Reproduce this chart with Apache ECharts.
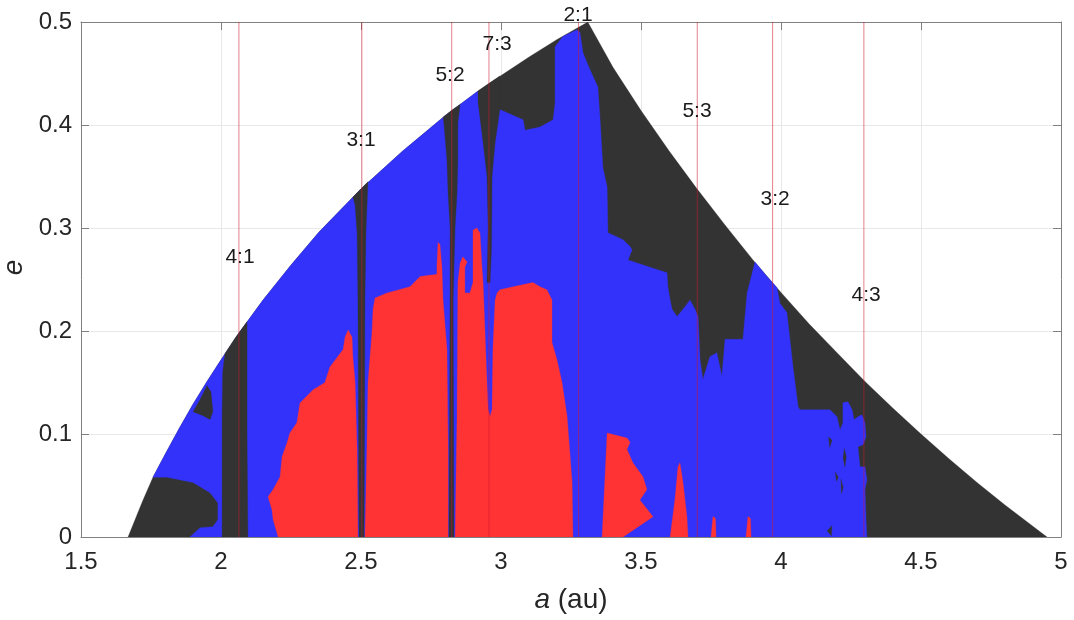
<!DOCTYPE html>
<html><head><meta charset="utf-8">
<script src="https://cdn.jsdelivr.net/npm/echarts@6/dist/echarts.min.js"></script>
<style>html,body{margin:0;padding:0;background:#fff}#c{width:1074px;height:620px}</style>
</head><body><div id="c"></div>
<script>
// ---------- data (a in au, e) ----------
const xTicks = [1.5, 2, 2.5, 3, 3.5, 4, 4.5, 5];
const yTicks = [0, 0.1, 0.2, 0.3, 0.4, 0.5];

// boundary of the explored region
const leftEdge = [[1.668,0],[1.72,0.035],[1.757,0.058],[1.80,0.08],[1.85,0.105],[1.90,0.129],[1.95,0.151],[2.0,0.172],[2.064,0.198],[2.15,0.23],[2.25,0.264],[2.35,0.296],[2.5,0.338],[2.65,0.375],[2.8,0.409],[2.918,0.433],[3.0,0.448],[3.1,0.466],[3.2,0.483],[3.31,0.5]];
const rightEdge = [[3.31,0.5],[3.4,0.456],[3.5,0.414],[3.6,0.375],[3.7,0.338],[3.8,0.303],[3.9,0.269],[4.0,0.2375],[4.1,0.207],[4.2,0.179],[4.3,0.151],[4.4,0.125],[4.5,0.1],[4.6,0.076],[4.7,0.053],[4.8,0.031],[4.95,0]];

// blue (stable) region outline pieces
const blueLobeEdge = [[1.889,0],[1.925,0.009],[1.971,0.010],[1.989,0.017],[1.989,0.033],[1.961,0.043],[1.9,0.053],[1.807,0.058]];
const blueUpperEdge = [[2.996,0.415],[3.079,0.405],[3.086,0.395],[3.139,0.398],[3.186,0.405],[3.193,0.421],[3.193,0.476],[3.221,0.486],[3.271,0.4925],[3.282,0.490],[3.293,0.470],[3.318,0.4537],[3.329,0.447],[3.346,0.437],[3.354,0.405],[3.364,0.3585],[3.379,0.340],[3.382,0.2955],[3.436,0.2886],[3.461,0.282],[3.468,0.279],[3.454,0.269],[3.532,0.262],[3.593,0.2566],[3.596,0.243],[3.604,0.2304],[3.611,0.221],[3.629,0.214],[3.65,0.221],[3.675,0.23],[3.693,0.221],[3.704,0.214],[3.711,0.172],[3.721,0.153],[3.746,0.175],[3.771,0.179],[3.789,0.156],[3.8,0.192],[3.864,0.192],[3.879,0.237],[3.907,0.267],[3.95,0.253],[3.986,0.242],[3.996,0.227],[4.021,0.218],[4.043,0.165],[4.061,0.1265],[4.068,0.1236],[4.175,0.1236],[4.2,0.1168],[4.211,0.104],[4.221,0.111],[4.221,0.1304],[4.239,0.1314],[4.254,0.1236],[4.261,0.1139],[4.275,0.1168],[4.289,0.1188],[4.3,0.111],[4.304,0.0974],[4.293,0.0896],[4.275,0.0877],[4.282,0.0682],[4.3,0.0682],[4.307,0.0556],[4.3,0.046],[4.304,0.0168],[4.307,0]];

// dark (unstable) patches inside the blue region
const blobNear2 = [[1.9,0.1217],[1.925,0.1333],[1.95,0.147],[1.964,0.141],[1.971,0.1217],[1.961,0.114],[1.936,0.1178]];
const gap41 = [[2.014,0.178],[2.05,0.193],[2.093,0.209],[2.093,0.1],[2.096,0],[2.004,0],[2.004,0.12],[2.006,0.16]];
const gap31 = [[2.471,0.330],[2.5,0.338],[2.525,0.345],[2.518,0.298],[2.514,0.23],[2.511,0],[2.493,0],[2.489,0.23],[2.486,0.295],[2.479,0.322]];
const gap52 = [[2.793,0.4075],[2.825,0.4145],[2.854,0.42],[2.846,0.402],[2.846,0.366],[2.843,0.334],[2.836,0.301],[2.829,0.23],[2.832,0],[2.814,0],[2.818,0.23],[2.818,0.301],[2.811,0.334],[2.807,0.366],[2.796,0.402]];
const gap73 = [[2.918,0.433],[2.96,0.441],[2.996,0.4476],[2.996,0.415],[2.979,0.383],[2.968,0.35],[2.966,0.28],[2.961,0.247],[2.95,0.247],[2.954,0.301],[2.95,0.35],[2.936,0.383],[2.918,0.422]];
const speck1 = [[4.17,0.097],[4.182,0.094],[4.174,0.087]];
const speck2 = [[4.226,0.086],[4.233,0.078],[4.228,0.068],[4.222,0.077]];
const speck3 = [[4.194,0.063],[4.205,0.058],[4.198,0.054]];
const speck4 = [[4.214,0.056],[4.222,0.048],[4.216,0.042]];
const speck5 = [[4.165,0.006],[4.182,0.011],[4.18,0.001]];

// red (most stable) regions
const red1 = [[2.204,0],[2.186,0.017],[2.182,0.0265],[2.168,0.039],[2.186,0.046],[2.211,0.0585],[2.218,0.078],[2.236,0.0915],[2.246,0.101],[2.271,0.111],[2.282,0.130],[2.329,0.143],[2.371,0.150],[2.389,0.165],[2.436,0.182],[2.443,0.194],[2.454,0.201],[2.468,0.194],[2.471,0.175],[2.479,0.150],[2.486,0.085],[2.489,0]];
const red2 = [[2.514,0],[2.521,0.085],[2.525,0.150],[2.539,0.198],[2.543,0.221],[2.55,0.232],[2.593,0.237],[2.675,0.243],[2.711,0.253],[2.771,0.255],[2.771,0.262],[2.775,0.286],[2.782,0.284],[2.789,0.262],[2.793,0.23],[2.807,0.182],[2.811,0.085],[2.811,0]];
const red3 = [[2.836,0],[2.843,0.117],[2.846,0.247],[2.854,0.266],[2.864,0.272],[2.879,0.267],[2.871,0.262],[2.871,0.237],[2.889,0.237],[2.9,0.247],[2.9,0.298],[2.914,0.300],[2.925,0.295],[2.932,0.262],[2.936,0.247],[2.95,0.150],[2.954,0.124],[2.961,0.117],[2.968,0.124],[2.971,0.182],[2.979,0.230],[2.986,0.237],[2.996,0.240],[3.043,0.243],[3.114,0.247],[3.139,0.243],[3.164,0.240],[3.182,0.230],[3.182,0.189],[3.2,0.172],[3.218,0.150],[3.236,0.117],[3.254,0.053],[3.257,0]];
const red4 = [[3.361,0],[3.379,0.101],[3.45,0.096],[3.461,0.092],[3.45,0.085],[3.471,0.072],[3.507,0.0585],[3.521,0.046],[3.496,0.036],[3.543,0.0197],[3.436,0]];
const red5 = [[3.604,0],[3.621,0.036],[3.632,0.068],[3.639,0.072],[3.65,0.053],[3.664,0.02],[3.668,0]];
const red6 = [[3.75,0],[3.757,0.02],[3.766,0.018],[3.768,0]];
const red7 = [[3.875,0],[3.882,0.02],[3.891,0.018],[3.893,0]];

// mean-motion resonances
const resNames = ['4:1','3:1','5:2','7:3','2:1','5:3','3:2','4:3'];
const resA = [2.064, 2.503, 2.824, 2.957, 3.277, 3.701, 3.970, 4.296];
const labelA = [2.068, 2.5, 2.818, 2.986, 3.275, 3.7, 3.979, 4.304];
const labelE = [0.272, 0.385, 0.448, 0.478, 0.507, 0.413, 0.328, 0.235];

// ---------- build ----------
const DARK = '#333333', BLUE = '#3232fa', RED = '#ff3333';
const FONT = '"Liberation Sans", Arial, Helvetica, sans-serif';

const darkBase = [leftEdge.concat(rightEdge.slice(1))];
const leftPart = leftEdge.filter(p => p[1] >= 0.058 && p[0] <= 2.918);
const bluePoly = [blueLobeEdge.concat(leftPart, blueUpperEdge)];
const darkPatches = [blobNear2, gap41, gap31, gap52, gap73, speck1, speck2, speck3, speck4, speck5];
const redPolys = [red1, red2, red3, red4, red5, red6, red7];

function polySeries(polys, color, z) {
  return {
    type: 'custom', coordinateSystem: 'cartesian2d', z: z, clip: true, silent: true,
    data: polys.map(p => p[0]),
    renderItem: function (params, api) {
      const pts = polys[params.dataIndex].map(p => api.coord(p));
      return { type: 'polygon', shape: { points: pts }, style: { fill: color, stroke: color, lineWidth: 0.3 } };
    }
  };
}

const axisCol = '#808080', txtCol = '#262626';
const chart = echarts.init(document.getElementById('c'), null, { renderer: 'canvas' });
chart.setOption({
  animation: false,
  grid: { left: 81, right: 13, top: 22, bottom: 83, containLabel: false, outerBoundsMode: 'none' },
  xAxis: [{
    type: 'value', min: xTicks[0], max: xTicks[xTicks.length - 1], interval: 0.5, position: 'bottom',
    axisLine: { show: true, onZero: false, lineStyle: { color: axisCol } },
    axisTick: { show: true, inside: true, length: 8, lineStyle: { color: axisCol } },
    axisLabel: { fontSize: 24, color: txtCol, fontFamily: FONT, margin: 13 },
    splitLine: { show: true, lineStyle: { color: '#e8e8e8' } },
    name: '{i|a} (au)', nameLocation: 'middle', nameGap: 49,
    nameTextStyle: { fontSize: 28, color: txtCol, fontFamily: FONT,
      rich: { i: { fontStyle: 'italic', fontSize: 28, color: txtCol, fontFamily: FONT } } }
  }, {
    type: 'value', min: xTicks[0], max: xTicks[xTicks.length - 1], interval: 0.5, position: 'top',
    axisLine: { show: true, onZero: false, lineStyle: { color: axisCol } },
    axisTick: { show: true, inside: true, length: 8, lineStyle: { color: axisCol } },
    axisLabel: { show: false }, splitLine: { show: false }
  }],
  yAxis: [{
    type: 'value', min: yTicks[0], max: yTicks[yTicks.length - 1], interval: 0.1, position: 'left',
    axisLine: { show: true, onZero: false, lineStyle: { color: axisCol } },
    axisTick: { show: true, inside: true, length: 8, lineStyle: { color: axisCol } },
    axisLabel: { fontSize: 24, color: txtCol, fontFamily: FONT, margin: 9 },
    splitLine: { show: true, lineStyle: { color: '#e8e8e8' } },
    name: 'e', nameLocation: 'middle', nameGap: 50,
    nameTextStyle: { fontSize: 28, color: txtCol, fontFamily: FONT, fontStyle: 'italic', padding: [0, 0, 0, 24] }
  }, {
    type: 'value', min: yTicks[0], max: yTicks[yTicks.length - 1], interval: 0.1, position: 'right',
    axisLine: { show: true, onZero: false, lineStyle: { color: axisCol } },
    axisTick: { show: true, inside: true, length: 8, lineStyle: { color: axisCol } },
    axisLabel: { show: false }, splitLine: { show: false }
  }],
  series: [
    polySeries(darkBase, DARK, 2),
    polySeries(bluePoly, BLUE, 3),
    polySeries(darkPatches, DARK, 4),
    polySeries(redPolys, RED, 5),
    {
      type: 'custom', coordinateSystem: 'cartesian2d', z: 6, clip: true, silent: true,
      data: resA.map(a => [a, 0]),
      renderItem: function (params, api) {
        const a = resA[params.dataIndex];
        const p0 = api.coord([a, yTicks[0]]), p1 = api.coord([a, yTicks[yTicks.length - 1]]);
        return { type: 'line', shape: { x1: p0[0], y1: p0[1], x2: p1[0], y2: p1[1] },
          style: { stroke: 'rgba(205,25,45,0.55)', lineWidth: 1 } };
      }
    },
    {
      type: 'custom', coordinateSystem: 'cartesian2d', z: 7, clip: false, silent: true,
      data: labelA.map((a, i) => [a, labelE[i]]),
      renderItem: function (params, api) {
        const i = params.dataIndex;
        const p = api.coord([labelA[i], labelE[i]]);
        return { type: 'text', x: p[0], y: p[1],
          style: { text: resNames[i], fontSize: 21, fontFamily: FONT, fill: '#1a1a1a', align: 'center', verticalAlign: 'middle' } };
      }
    }
  ]
});
</script>
</body></html>
